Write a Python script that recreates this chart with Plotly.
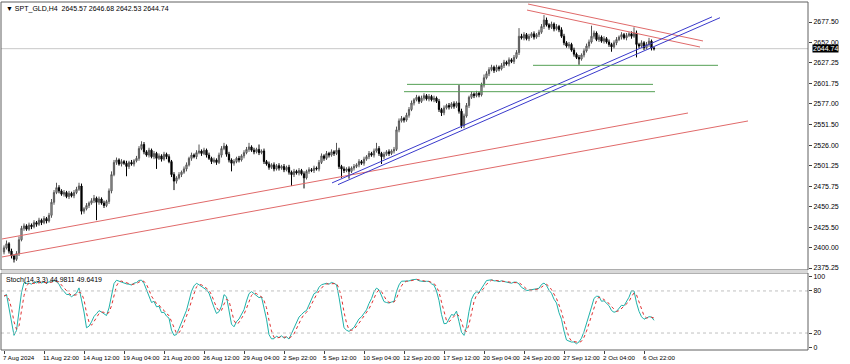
import plotly.graph_objects as go
import numpy as np

# ---------------- data ----------------
close = [
    2400, 2405, 2396, 2390, 2386, 2393, 2410, 2424, 2427, 2423,
    2428, 2426, 2431, 2429, 2434, 2431, 2436, 2433, 2440, 2456,
    2468, 2474, 2470, 2466, 2468, 2463, 2467, 2464, 2468, 2472,
    2476, 2445, 2448, 2452, 2455, 2458, 2461, 2456, 2460, 2455,
    2452, 2457, 2470, 2490, 2505, 2508, 2503, 2506, 2504, 2500,
    2505, 2503, 2507, 2510, 2522, 2527, 2518, 2514, 2520, 2512,
    2516, 2510, 2513, 2509, 2515, 2512, 2506, 2490, 2482, 2486,
    2490, 2493, 2497, 2502, 2510, 2514, 2512, 2517, 2519, 2516,
    2520, 2514, 2510, 2506, 2508, 2505, 2514, 2522, 2525, 2515,
    2508, 2504, 2506, 2510, 2508, 2513, 2517, 2521, 2524, 2520,
    2518, 2521, 2517, 2519, 2506, 2503, 2499, 2502, 2497, 2501,
    2498, 2500, 2496, 2499, 2493, 2490, 2494, 2492, 2495, 2491,
    2486, 2494, 2496, 2495, 2498, 2497, 2505, 2513, 2510, 2516,
    2514, 2518, 2516, 2520, 2500, 2497, 2495, 2497, 2494, 2498,
    2500, 2502, 2506, 2504, 2509, 2512, 2516, 2514, 2519, 2522,
    2516, 2512, 2515, 2518, 2516, 2519, 2521, 2545, 2556, 2559,
    2557, 2563, 2570, 2578, 2582, 2585, 2580, 2584, 2587, 2583,
    2586, 2582, 2584, 2580, 2570, 2566, 2572, 2575, 2573, 2577,
    2574, 2578, 2568, 2550, 2562, 2575, 2585, 2589, 2587, 2590,
    2588, 2600, 2609, 2614, 2619, 2622, 2618, 2622, 2620, 2624,
    2628, 2626, 2631, 2629, 2634, 2640, 2660, 2658, 2662, 2657,
    2660, 2663, 2659, 2662, 2665, 2672, 2680, 2674, 2671, 2675,
    2669, 2672, 2668, 2660, 2652, 2648, 2650, 2643, 2638, 2634,
    2632, 2637, 2642, 2648, 2653, 2660, 2664, 2656, 2659, 2654,
    2657, 2653, 2650, 2647, 2652, 2656, 2659, 2662, 2658, 2661,
    2663, 2660, 2664, 2650, 2648, 2652, 2646, 2650, 2654, 2645.57,
    2644.74,
]
first_open = 2395

wick_up = [
    3, 4, 2, 3, 2, 3, 4, 3, 3, 2,
    3, 2, 3, 2, 3, 2, 3, 2, 3, 4,
    3, 6, 3, 2, 3, 2, 3, 2, 3, 3,
    4, 3, 2, 3, 2, 3, 4, 2, 3, 2,
    3, 2, 3, 4, 3, 3, 2, 3, 2, 3,
    2, 3, 2, 3, 3, 4, 3, 2, 3, 2,
    3, 2, 3, 2, 3, 2, 3, 2, 3, 2,
    3, 2, 3, 3, 2, 3, 2, 3, 8, 2,
    3, 2, 3, 2, 3, 2, 3, 3, 4, 2,
    3, 2, 3, 2, 3, 2, 3, 3, 5, 2,
    3, 2, 6, 2, 3, 2, 3, 2, 3, 2,
    3, 2, 3, 2, 3, 2, 3, 2, 3, 2,
    3, 2, 3, 2, 3, 2, 3, 3, 2, 3,
    2, 3, 2, 9, 3, 2, 3, 2, 3, 2,
    3, 2, 3, 2, 3, 2, 3, 2, 3, 7,
    3, 2, 3, 2, 3, 2, 3, 4, 3, 3,
    2, 3, 3, 3, 2, 3, 2, 3, 3, 2,
    3, 2, 3, 2, 3, 2, 3, 2, 3, 2,
    3, 2, 22, 3, 3, 3, 2, 3, 2, 3,
    2, 3, 4, 3, 3, 3, 2, 3, 2, 3,
    3, 2, 3, 2, 3, 3, 10, 3, 3, 2,
    3, 2, 3, 2, 3, 3, 6, 3, 2, 3,
    2, 3, 2, 3, 3, 2, 3, 2, 3, 2,
    3, 2, 3, 3, 3, 13, 3, 2, 3, 2,
    3, 2, 3, 2, 3, 3, 2, 3, 2, 3,
    2, 3, 7, 3, 2, 3, 2, 3, 4, 2,
    1.11,
]
wick_dn = [
    3, 2, 3, 3, 4, 2, 3, 2, 3, 2,
    2, 3, 2, 3, 2, 3, 2, 3, 2, 3,
    3, 2, 3, 2, 3, 2, 3, 2, 3, 2,
    2, 4, 3, 2, 3, 2, 3, 22, 3, 2,
    3, 2, 3, 3, 2, 3, 2, 3, 2, 12,
    3, 2, 3, 2, 3, 2, 3, 2, 3, 2,
    3, 13, 2, 3, 2, 3, 2, 3, 11, 3,
    2, 3, 2, 3, 2, 3, 2, 3, 2, 3,
    2, 3, 2, 3, 2, 3, 2, 3, 2, 3,
    3, 10, 3, 2, 3, 2, 3, 2, 3, 2,
    3, 2, 3, 2, 3, 2, 3, 2, 3, 2,
    3, 2, 3, 2, 3, 14, 3, 2, 3, 2,
    13, 2, 3, 2, 3, 2, 3, 2, 3, 2,
    3, 2, 3, 2, 3, 11, 3, 2, 9, 2,
    3, 2, 3, 2, 3, 2, 3, 2, 3, 2,
    3, 9, 3, 2, 3, 2, 3, 2, 3, 2,
    3, 2, 3, 2, 3, 2, 3, 2, 3, 2,
    3, 2, 3, 2, 3, 4, 3, 2, 3, 2,
    3, 2, 3, 3, 3, 2, 3, 2, 3, 2,
    3, 2, 3, 2, 3, 2, 3, 2, 3, 2,
    3, 2, 3, 2, 3, 2, 3, 2, 3, 2,
    3, 2, 3, 2, 3, 2, 3, 2, 3, 2,
    3, 2, 3, 2, 3, 2, 3, 2, 3, 2,
    7, 2, 3, 2, 3, 2, 3, 2, 3, 2,
    3, 2, 3, 6, 2, 3, 2, 3, 2, 3,
    2, 3, 2, 16, 3, 2, 3, 2, 3, 3,
    2.21,
]

x_tick_bars = [0, 16, 32, 48, 64, 80, 96, 112, 128, 144, 160, 176, 192, 208, 224, 240, 256]
x_tick_labels = ["7 Aug 2024", "11 Aug 22:00", "14 Aug 12:00", "19 Aug 04:00", "21 Aug 20:00",
                 "26 Aug 12:00", "29 Aug 04:00", "2 Sep 22:00", "5 Sep 12:00", "10 Sep 04:00",
                 "12 Sep 20:00", "17 Sep 12:00", "20 Sep 04:00", "24 Sep 20:00", "27 Sep 12:00",
                 "2 Oct 04:00", "6 Oct 22:00"]
price_ticks = [2677.50, 2652.00, 2627.25, 2601.75, 2577.00, 2551.50, 2526.00,
               2501.25, 2475.75, 2450.25, 2425.50, 2400.00, 2375.25]
stoch_ticks = [0, 20, 80, 100]

# drawn objects: (bar0, price0, bar1, price1)
red_channel = [(-0.8, 2410.9, 273.6, 2565.7), (-0.8, 2388.8, 297.6, 2555.9)]
red_top = [(209.6, 2699.6, 279.6, 2654.2), (209.2, 2692.2, 278.4, 2646.8)]
blue_lines = [(131.2, 2479.8, 283.2, 2683.8), (133.6, 2477.7, 286.4, 2682.8)]
green_lines = [(211.6, 2624.3, 285.6, 2624.3), (161.2, 2600.9, 259.6, 2600.9),
               (160.0, 2591.9, 260.4, 2591.9)]
last_price = 2644.74
header = "▼ SPT_GLD,H4  2645.57 2646.68 2642.53 2644.74"
stoch_header = "Stoch(14,3,3) 44.9811 49.6419"

# ---------------- derived ----------------
n = len(close)
idx = list(range(n))
opn = [first_open] + close[:-1]
high = [max(o, c) + u for o, c, u in zip(opn, close, wick_up)]
low = [min(o, c) - d for o, c, d in zip(opn, close, wick_dn)]

H = np.array(high); L = np.array(low); C = np.array(close, dtype=float)
num = np.zeros(n); den = np.zeros(n)
for i in range(n):
    a = max(0, i - 13)
    ll = L[a:i + 1].min(); hh = H[a:i + 1].max()
    num[i] = C[i] - ll; den[i] = hh - ll
K = np.zeros(n)
for i in range(n):
    a = max(0, i - 2)
    K[i] = 100 * num[a:i + 1].sum() / den[a:i + 1].sum()
D = np.array([K[max(0, i - 2):i + 1].mean() for i in range(n)])

# ---------------- figure ----------------
FONT = "Liberation Sans"
main_dom = [0.2299, 1.0]
st_dom = [0.0, 0.2213]
xr = [-1.2, 321.6]

fig = go.Figure()
fig.add_trace(go.Candlestick(
    x=idx, open=opn, high=high, low=low, close=close,
    increasing=dict(line=dict(color="#555555", width=1), fillcolor="#bdbdbd"),
    decreasing=dict(line=dict(color="#000000", width=1), fillcolor="#000000"),
    whiskerwidth=0, showlegend=False, hoverinfo="skip", xaxis="x", yaxis="y"))

def add_lines(lines, color):
    for b0, p0, b1, p1 in lines:
        fig.add_trace(go.Scatter(x=[b0, b1], y=[p0, p1], mode="lines",
                                 line=dict(color=color, width=1), showlegend=False,
                                 hoverinfo="skip", xaxis="x", yaxis="y"))

add_lines(red_channel, "#e06a6a")
add_lines(red_top, "#e06a6a")
add_lines(blue_lines, "#3a3acc")
add_lines(green_lines, "#55a055")

fig.add_trace(go.Scatter(x=idx, y=K, mode="lines", line=dict(color="#20b2aa", width=1),
                         showlegend=False, hoverinfo="skip", xaxis="x2", yaxis="y2"))
fig.add_trace(go.Scatter(x=idx, y=D, mode="lines", line=dict(color="#e03030", width=1, dash="dot"),
                         showlegend=False, hoverinfo="skip", xaxis="x2", yaxis="y2"))

shapes = [
    dict(type="line", xref="paper", x0=0, x1=1, yref="y", y0=last_price, y1=last_price,
         line=dict(color="#c8c8c8", width=1), layer="below"),
    dict(type="line", xref="paper", x0=0, x1=1, yref="y2", y0=80, y1=80,
         line=dict(color="#c0c0c0", width=1, dash="dot")),
    dict(type="line", xref="paper", x0=0, x1=1, yref="y2", y0=20, y1=20,
         line=dict(color="#c0c0c0", width=1, dash="dot")),
    dict(type="rect", xref="paper", yref="paper", x0=0, x1=1, y0=main_dom[0], y1=main_dom[1],
         line=dict(color="#606060", width=1)),
    dict(type="rect", xref="paper", yref="paper", x0=0, x1=1, y0=st_dom[0], y1=st_dom[1],
         line=dict(color="#606060", width=1)),
    dict(type="rect", xref="paper", yref="paper", x0=0, x1=1, y0=st_dom[1], y1=main_dom[0],
         line=dict(width=0), fillcolor="#d8d8d8"),
]

annotations = [
    dict(xref="paper", yref="paper", x=0.004, y=1, xanchor="left", yanchor="top", yshift=-1,
         text=header, showarrow=False, font=dict(family=FONT, size=7, color="#000000")),
    dict(xref="paper", yref="paper", x=0.004, y=st_dom[1], xanchor="left", yanchor="top", yshift=-1,
         text=stoch_header, showarrow=False, font=dict(family=FONT, size=7, color="#000000")),
    dict(xref="paper", yref="y", x=1, y=last_price, xanchor="left", yanchor="middle", xshift=4,
         text="2644.74", showarrow=False, bgcolor="#000000", borderpad=0,
         font=dict(family=FONT, size=7, color="#ffffff")),
]
for b, t in zip(x_tick_bars, x_tick_labels):
    annotations.append(dict(xref="x2", yref="paper", x=b, y=0, xanchor="left", yanchor="top",
                            xshift=-3, yshift=-2, text=t, showarrow=False,
                            font=dict(family=FONT, size=6.2, color="#000000")))

fig.update_layout(
    width=850, height=364, autosize=False,
    margin=dict(l=1, r=42, t=2, b=14),
    paper_bgcolor="#ffffff", plot_bgcolor="#ffffff",
    font=dict(family=FONT, size=7, color="#000000"),
    showlegend=False, hovermode=False,
    shapes=shapes, annotations=annotations,
    xaxis=dict(domain=[0, 1], anchor="y", range=xr, visible=False, showgrid=False,
               zeroline=False, rangeslider=dict(visible=False), fixedrange=True),
    xaxis2=dict(domain=[0, 1], anchor="y2", range=xr, matches="x", showgrid=False, zeroline=False,
                tickvals=x_tick_bars, ticktext=[""] * len(x_tick_bars), ticks="outside",
                ticklen=3, tickcolor="#404040", showline=False),
    yaxis=dict(domain=main_dom, anchor="x", side="right", range=[2372.8, 2702.1],
               tickvals=price_ticks, ticktext=[f"{v:.2f}" for v in price_ticks],
               ticks="outside", ticklen=3, tickcolor="#404040", showgrid=False, zeroline=False,
               tickfont=dict(family=FONT, size=7)),
    yaxis2=dict(domain=st_dom, anchor="x2", side="right", range=[-4.2, 105.6],
                tickvals=stoch_ticks, ticktext=[str(v) for v in stoch_ticks],
                ticks="outside", ticklen=3, tickcolor="#404040", showgrid=False, zeroline=False,
                tickfont=dict(family=FONT, size=7)),
)

fig.write_html("out.html", config={"displayModeBar": False},
               post_script="document.body.style.margin='0';document.body.style.padding='0';"
                           "document.body.style.overflow='hidden';")
